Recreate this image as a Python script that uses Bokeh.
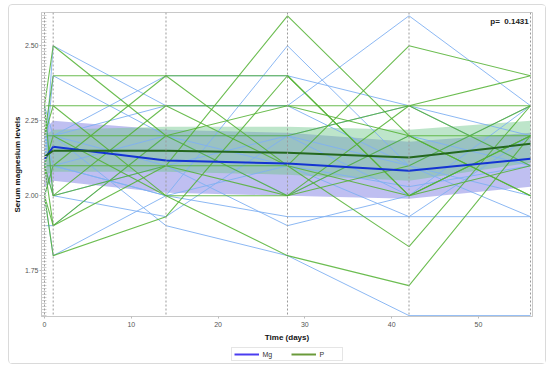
from bokeh.plotting import figure
from bokeh.layouts import column
from bokeh.models import FixedTicker, Span, Label, Legend, LegendItem, Range1d, PrintfTickFormatter
from bokeh.embed import file_html
from bokeh.resources import INLINE

# ---- data ----
days = [0, 1, 14, 28, 42, 56]
x_ticks = [0, 10, 20, 30, 40, 50]
y_ticks = [1.75, 2.00, 2.25, 2.50]

mg_patients = [
    [2.10, 2.50, 2.30, 2.30, 2.60, 2.30],
    [2.20, 2.20, 2.40, 2.40, 2.30, 2.10],
    [2.00, 1.80, 2.00, 2.50, 2.10, 2.30],
    [2.10, 2.10, 2.20, 2.20, 2.00, 2.20],
    [2.30, 2.20, 1.90, 1.80, 1.60, 1.60],
    [2.10, 2.00, 1.93, 2.20, 2.30, 2.20],
    [2.20, 2.10, 2.00, 1.93, 1.93, 1.93],
    [1.90, 1.90, 2.20, 2.10, 2.03, 2.10],
    [2.20, 2.20, 2.10, 2.20, 2.10, 2.00],
    [2.10, 2.40, 2.20, 2.00, 2.20, 2.10],
    [2.00, 2.10, 2.00, 2.10, 1.93, 2.20],
    [2.20, 2.20, 2.30, 2.30, 2.10, 1.93],
    [2.30, 2.00, 2.10, 1.90, 2.00, 2.30],
]
p_patients = [
    [2.30, 2.50, 2.20, 2.00, 2.30, 2.40],
    [2.20, 2.40, 2.40, 2.10, 2.50, 2.40],
    [2.30, 2.30, 2.30, 2.30, 2.30, 2.30],
    [2.10, 2.00, 2.10, 2.60, 2.20, 2.00],
    [2.00, 1.80, 1.93, 2.40, 2.00, 2.20],
    [2.20, 2.30, 2.00, 1.80, 1.70, 2.20],
    [2.10, 2.10, 2.40, 2.40, 2.00, 2.10],
    [2.00, 1.90, 2.10, 2.10, 1.83, 2.30],
    [2.10, 2.20, 2.20, 2.30, 2.20, 2.00],
    [2.30, 2.00, 2.30, 2.10, 2.00, 2.20],
    [2.20, 2.20, 2.00, 2.00, 2.20, 2.20],
    [2.10, 1.90, 2.20, 2.20, 2.30, 2.10],
    [2.00, 2.10, 2.10, 2.00, 2.10, 2.30],
]

mg_mean = [2.123, 2.163, 2.117, 2.107, 2.083, 2.123]
mg_lower = [2.03, 2.05, 2.01, 2.00, 1.99, 2.03]
mg_upper = [2.22, 2.25, 2.22, 2.21, 2.18, 2.21]

p_mean = [2.13, 2.15, 2.15, 2.143, 2.127, 2.173]
p_lower = [2.07, 2.08, 2.08, 2.07, 2.05, 2.11]
p_upper = [2.20, 2.22, 2.23, 2.23, 2.22, 2.25]

p_value_text = "p=\u00a0 0.1431"
legend_labels = ["Mg", "P"]

FONT = "Liberation Sans"
W = 536

p = figure(width=W, height=340, output_backend="svg", toolbar_location=None,
           x_range=Range1d(-0.345, 56.23), y_range=Range1d(1.597, 2.611),
           min_border_left=31, min_border_right=13, min_border_top=7, min_border_bottom=29,
           background_fill_color="white", border_fill_color="white")

p.xgrid.visible = False
p.ygrid.visible = False
p.outline_line_color = "#c8c8c8"

# day markers
for d in days:
    p.add_layout(Span(location=d, dimension="height", line_color="#9a9a9a",
                      line_dash="2 2", line_width=1))

# confidence bands
p.varea(x=days, y1=mg_lower, y2=mg_upper, fill_color="#8a8ae6", fill_alpha=0.55)
p.varea(x=days, y1=p_lower, y2=p_upper, fill_color="#6cc58a", fill_alpha=0.45)

# individual trajectories
p.multi_line(xs=[days] * len(mg_patients), ys=mg_patients,
             line_color="#80b0f2", line_alpha=0.9, line_width=1)
p.multi_line(xs=[days] * len(p_patients), ys=p_patients,
             line_color="#52b232", line_alpha=0.85, line_width=1.1)

# means
p.line(days, mg_mean, line_color="#1434d2", line_width=2)
p.line(days, p_mean, line_color="#24681e", line_width=2)

# p-value
p.add_layout(Label(x=55.8, y=2.597, text=p_value_text, text_align="right",
                   text_baseline="top", text_font=FONT, text_font_size="8px",
                   text_font_style="bold", text_color="#222222"))

# axes
p.xaxis.ticker = FixedTicker(ticks=x_ticks)
minor = [round(1.60 + 0.01 * i, 2) for i in range(102)]
p.yaxis.ticker = FixedTicker(ticks=y_ticks, minor_ticks=minor)
p.yaxis.formatter = PrintfTickFormatter(format="%.2f")

for ax in (p.xaxis, p.yaxis):
    ax.axis_line_color = "#c8c8c8"
    ax.major_tick_line_color = "#bbbbbb"
    ax.major_tick_out = 2
    ax.major_tick_in = 0
    ax.major_label_text_font = FONT
    ax.major_label_text_font_size = "7px"
    ax.major_label_text_color = "#555555"
    ax.axis_label_text_font = FONT
    ax.axis_label_text_font_size = "8px"
    ax.axis_label_text_font_style = "bold"
    ax.axis_label_text_color = "#111111"

p.xaxis.minor_tick_line_color = None
p.yaxis.minor_tick_line_color = "#d0d0d0"
p.yaxis.minor_tick_in = 5
p.yaxis.minor_tick_out = 0
p.xaxis.axis_label = "Time (days)"
p.yaxis.axis_label = "Serum magnesium levels"
p.xaxis.major_label_standoff = 3
p.yaxis.major_label_standoff = 1
p.xaxis.axis_label_standoff = 3
p.yaxis.axis_label_standoff = 0

# legend strip below
lp = figure(width=W, height=18, output_backend="svg", toolbar_location=None,
            x_range=Range1d(0, 1), y_range=Range1d(0, 1),
            min_border_left=31, min_border_right=13, min_border_top=0, min_border_bottom=0,
            background_fill_color="white", border_fill_color="white")
lp.axis.visible = False
lp.grid.visible = False
lp.outline_line_color = None
lg_mg = lp.line([0, 1], [5, 5], line_color="#4a3cf0", line_width=2)
lg_p = lp.line([0, 1], [5, 5], line_color="#6a9a3a", line_width=2)
legend = Legend(items=[LegendItem(label=legend_labels[0], renderers=[lg_mg]),
                       LegendItem(label=legend_labels[1], renderers=[lg_p])],
                orientation="horizontal", location="center",
                label_text_font=FONT, label_text_font_size="7px",
                label_text_color="#333333",
                glyph_width=25, glyph_height=8, label_height=8,
                spacing=8, padding=2, margin=0,
                border_line_color="#cccccc", border_line_width=1,
                label_standoff=4)
lp.add_layout(legend)

layout = column(p, lp, spacing=0,
                styles={"margin": "4px 0 0 8px", "border": "1px solid #dadada",
                        "border-radius": "4px"})

open("out.html", "w").write(file_html(layout, INLINE))
